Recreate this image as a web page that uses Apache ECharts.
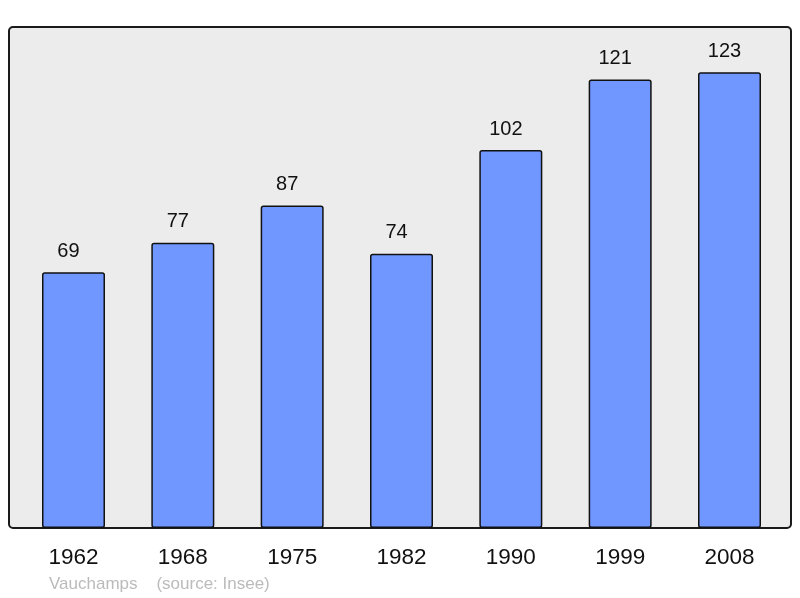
<!DOCTYPE html>
<html>
<head>
<meta charset="utf-8">
<script src="https://cdn.jsdelivr.net/npm/echarts@6/dist/echarts.min.js"></script>
<style>
html,body{margin:0;padding:0;background:#fff;}
#chart{width:800px;height:598px;}
</style>
</head>
<body>
<div id="chart"></div>
<script>
const years = ['1962', '1968', '1975', '1982', '1990', '1999', '2008'];
const population = [69, 77, 87, 74, 102, 121, 123];
const footer = 'Vauchamps    (source: Insee)';

const chart = echarts.init(document.getElementById('chart'), null, {renderer: 'canvas'});
chart.setOption({
  animation: false,
  backgroundColor: '#ffffff',
  textStyle: {fontFamily: 'Liberation Sans, Arial, sans-serif'},
  title: {
    text: footer,
    left: 49,
    top: 576,
    padding: 0,
    textStyle: {fontSize: 17, fontWeight: 'normal', color: '#bbbbbb', fontFamily: 'Liberation Sans, Arial, sans-serif'}
  },
  graphic: [{
    type: 'rect',
    z: 0,
    shape: {x: 9, y: 27, width: 782, height: 501, r: 4},
    style: {fill: '#ececec', stroke: '#1a1a1a', lineWidth: 2}
  }],
  grid: {left: 18.83, right: 15.83, top: 27, bottom: 70, containLabel: false},
  xAxis: {
    type: 'category',
    data: years,
    boundaryGap: true,
    axisLine: {show: false},
    axisTick: {show: false},
    axisLabel: {margin: 18, fontSize: 22.5, color: '#111', fontFamily: 'Liberation Sans, Arial, sans-serif'}
  },
  yAxis: {
    type: 'value',
    min: 0,
    max: 135.2,
    show: false,
    splitLine: {show: false}
  },
  series: [{
    type: 'bar',
    data: population,
    barWidth: 63,
    z: 2,
    itemStyle: {color: '#7097ff', borderColor: '#111', borderWidth: 1.5, borderRadius: 2},
    label: {
      show: true,
      position: 'top',
      distance: 11,
      offset: [-5, 0],
      fontSize: 20,
      color: '#111',
      fontFamily: 'Liberation Sans, Arial, sans-serif'
    }
  }]
});
</script>
</body>
</html>
